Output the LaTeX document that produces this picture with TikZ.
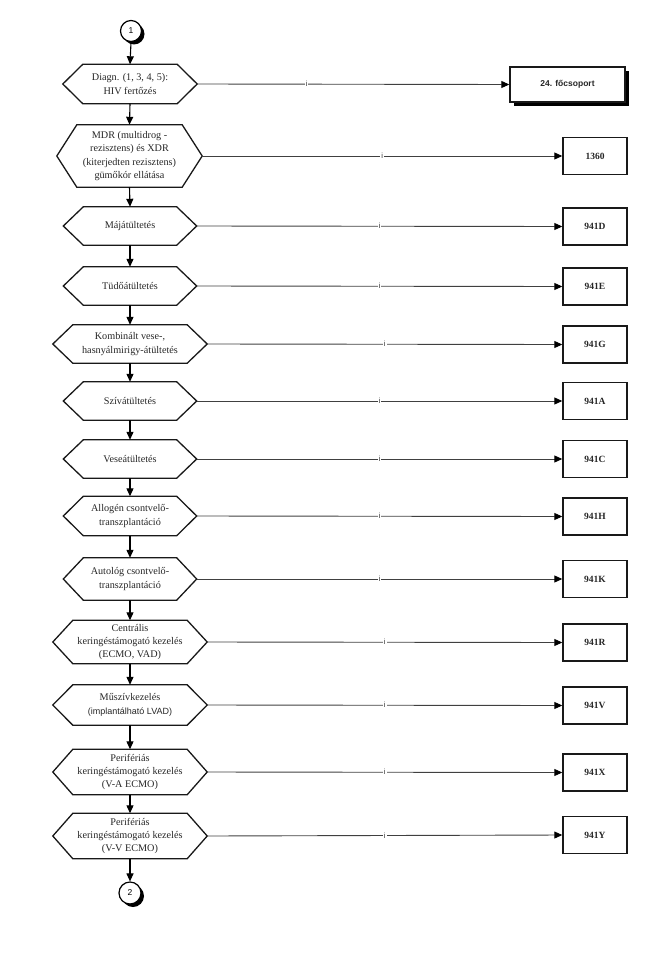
\documentclass[tikz,border=0pt]{standalone}
\usepackage{fontspec}
\setmainfont{Liberation Serif}
\newfontfamily\sansf{Liberation Sans}
\usetikzlibrary{arrows.meta,calc,shadows}
\newcommand\hexdraw[1]{\draw[hexline] (#1.west) -- ($(#1.north west)+(20,0)$) -- ($(#1.north east)+(-20,0)$) -- (#1.east) -- ($(#1.south east)+(-20,0)$) -- ($(#1.south west)+(20,0)$) -- cycle;}
\begin{document}
\begin{tikzpicture}[x=1pt,y=-1pt,
  hexnode/.style={inner sep=0pt, align=center, font=\fontsize{10.2}{13.4}\selectfont, text=black!85},
  hexline/.style={draw=black!90, line width=1.3pt, line join=miter},
  codebox/.style={draw=black!90, line width=1.4pt, fill=white, minimum width=64pt, minimum height=37pt, inner sep=0pt, font=\bfseries\fontsize{9.5}{10}\selectfont, text=black!85},
  conn/.style={draw=black!75, line width=0.9pt, -{Triangle[length=8pt,width=7pt,color=black]}},
  down/.style={draw=black, line width=1.1pt, -{Triangle[length=8pt,width=7pt]}},
  ilabel/.style={fill=white, inner sep=1pt, font=\sansf\fontsize{7.5}{7.5}\selectfont, text=black!80},
  conncircle/.style={circle, draw=black, line width=1.2pt, fill=white, inner sep=0pt, font=\sansf\fontsize{8.5}{8.5}\selectfont, drop shadow={shadow xshift=3pt, shadow yshift=-3pt, fill=black, opacity=1}}
]
\useasboundingbox (0,0) rectangle (661,958);

\node[conncircle, minimum size=21pt] (c1) at (131,31) {1};

\node[hexnode, minimum width=134pt, minimum height=39pt] (h1) at (130,84) {Diagn. (1, 3, 4, 5):\\HIV fertőzés};
\node[hexnode, minimum width=145pt, minimum height=62pt] (h2) at (129.5,156) {MDR (multidrog -\\rezisztens) és XDR\\(kiterjedten rezisztens)\\gümőkór ellátása};
\node[hexnode, minimum width=133pt, minimum height=38pt] (h3) at (130,226) {Májátültetés};
\node[hexnode, minimum width=133pt, minimum height=38pt] (h4) at (130,286) {Tüdőátültetés};
\node[hexnode, minimum width=154pt, minimum height=38pt] (h5) at (130,344) {Kombinált vese-,\\hasnyálmirigy-átültetés};
\node[hexnode, minimum width=133pt, minimum height=38pt] (h6) at (130,401) {Szívátültetés};
\node[hexnode, minimum width=133pt, minimum height=38pt] (h7) at (130,459) {Veseátültetés};
\node[hexnode, minimum width=133pt, minimum height=39pt] (h8) at (130,516) {Allogén csontvelő-\\transzplantáció};
\node[hexnode, minimum width=133pt, minimum height=42pt] (h9) at (130,579) {Autológ csontvelő-\\transzplantáció};
\node[hexnode, minimum width=154pt, minimum height=43pt] (h10) at (130,642) {Centrális\\keringéstámogató kezelés\\(ECMO, VAD)};
\node[hexnode, minimum width=154pt, minimum height=40pt] (h11) at (130,705) {Műszívkezelés\\{\sansf\fontsize{9}{13.4}\selectfont (implantálható LVAD)}};
\node[hexnode, minimum width=154pt, minimum height=45pt] (h12) at (130,772) {Perifériás\\keringéstámogató kezelés\\(V-A ECMO)};
\node[hexnode, minimum width=154pt, minimum height=45pt] (h13) at (130,836) {Perifériás\\keringéstámogató kezelés\\(V-V ECMO)};

\foreach \n in {h1,h2,h3,h4,h5,h6,h7,h8,h9,h10,h11,h12,h13} {\hexdraw{\n}}

\node[conncircle, minimum size=22pt] (c2) at (130,893) {2};

\node[codebox, minimum width=115pt, minimum height=35pt, font=\sansf\bfseries\fontsize{8.5}{9}\selectfont, drop shadow={shadow xshift=4pt, shadow yshift=-4pt, fill=black, opacity=1}] (b1) at (567.5,84.5) {24. főcsoport};
\node[codebox] (b2) at (595,156) {1360};
\node[codebox] (b3) at (595,226.5) {941D};
\node[codebox] (b4) at (595,286.5) {941E};
\node[codebox] (b5) at (595,344.5) {941G};
\node[codebox] (b6) at (595,401) {941A};
\node[codebox] (b7) at (595,459) {941C};
\node[codebox] (b8) at (595,516.5) {941H};
\node[codebox] (b9) at (595,579) {941K};
\node[codebox] (b10) at (595,642.5) {941R};
\node[codebox] (b11) at (595,705.5) {941V};
\node[codebox] (b12) at (595,772.5) {941X};
\node[codebox] (b13) at (595,835) {941Y};

\draw[conn] (h1.east) -- node[ilabel, pos=0.35] {i} (b1.west);
\foreach \k in {2,...,13} {\draw[conn] (h\k.east) -- node[ilabel, pos=0.5] {i} (b\k.west);}

\draw[down] (c1.south) -- (h1.north);
\foreach \a/\b in {1/2,2/3,3/4,4/5,5/6,6/7,7/8,8/9,9/10,10/11,11/12,12/13} {\draw[down] (h\a.south) -- (h\b.north);}
\draw[down] (h13.south) -- (c2.north);
\end{tikzpicture}
\end{document}
